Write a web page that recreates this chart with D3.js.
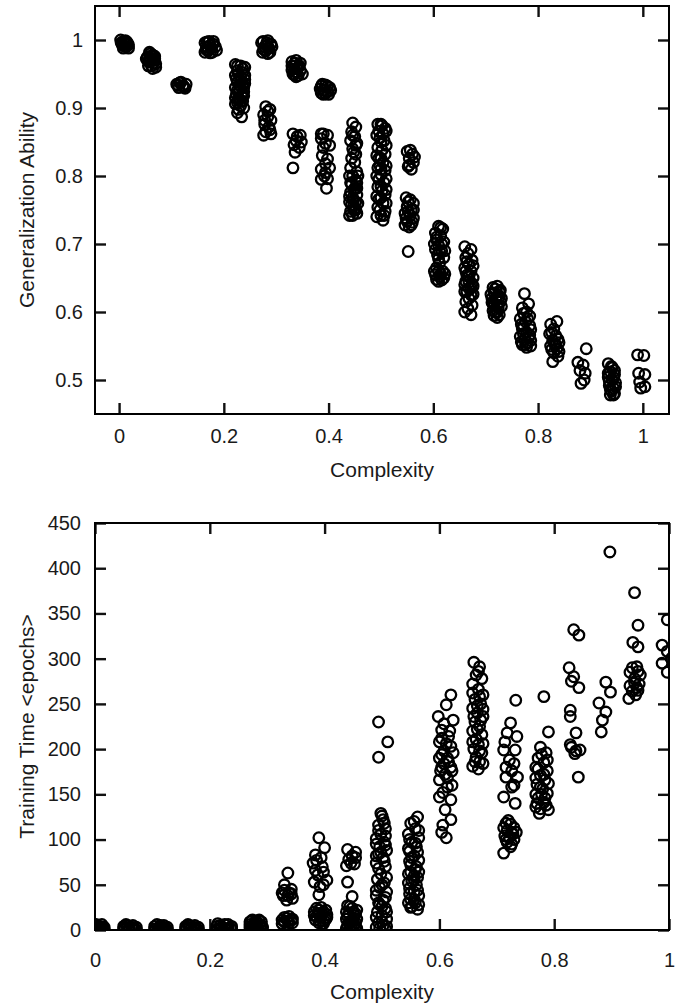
<!DOCTYPE html>
<html>
<head>
<meta charset="utf-8">
<script src="https://cdn.jsdelivr.net/npm/d3@7/dist/d3.min.js"></script>
<style>
  html, body { margin: 0; padding: 0; background: #fff; }
  svg { display: block; }
  text { font-family: "Liberation Sans", Arial, Helvetica, sans-serif; fill: #1a1a1a; }
</style>
</head>
<body>
<svg id="fig" width="678" height="1005"></svg>
<script>
// Generalization ability per network, [complexity, ability]
const generalization = [
  // ~0.00
  [0.003,1.0],[0.008,0.998],[0.012,0.996],[0.016,0.994],[0.006,0.993],[0.014,0.99],[0.018,0.988],[0.01,0.991],
  [0.004,0.996],[0.012,0.999],[0.018,0.993],[0.008,0.988],[0.015,0.997],
  // ~0.06
  [0.058,0.982],[0.064,0.978],[0.054,0.975],[0.068,0.972],[0.06,0.97],[0.066,0.966],[0.056,0.968],[0.062,0.962],[0.07,0.96],[0.064,0.958],[0.058,0.974],
  [0.06,0.98],[0.068,0.976],[0.056,0.962],[0.066,0.97],[0.052,0.972],[0.062,0.976],[0.07,0.965],
  // ~0.11
  [0.11,0.935],[0.116,0.937],[0.122,0.933],[0.128,0.935],[0.114,0.93],[0.124,0.931],[0.118,0.938],[0.112,0.933],[0.126,0.929],
  // ~0.17
  [0.164,0.996],[0.172,0.998],[0.18,0.994],[0.168,0.99],[0.176,0.988],[0.184,0.99],[0.17,0.984],[0.178,0.982],[0.166,0.986],
  [0.168,0.997],[0.18,0.998],[0.174,0.992],[0.186,0.985],[0.164,0.982],[0.174,0.981],
  // ~0.22
  [0.222,0.964],[0.232,0.962],[0.24,0.96],[0.226,0.955],[0.236,0.952],[0.222,0.948],[0.232,0.945],[0.24,0.942],[0.226,0.938],
  [0.236,0.935],[0.222,0.93],[0.23,0.927],[0.238,0.924],[0.224,0.92],[0.234,0.917],[0.228,0.912],[0.236,0.91],[0.222,0.906],
  [0.232,0.903],[0.228,0.898],[0.238,0.9],[0.226,0.893],[0.234,0.887],[0.228,0.915],[0.238,0.93],
  [0.226,0.962],[0.236,0.958],[0.228,0.95],[0.24,0.948],[0.224,0.943],[0.232,0.94],[0.24,0.936],[0.23,0.933],[0.226,0.926],
  [0.236,0.921],[0.222,0.915],[0.232,0.91],[0.226,0.908],[0.238,0.918],
  // ~0.28
  [0.275,0.998],[0.282,0.996],[0.29,0.994],[0.278,0.99],[0.286,0.988],[0.28,0.984],[0.288,0.982],[0.276,0.986],
  [0.272,0.996],[0.284,0.999],[0.292,0.99],[0.282,0.992],[0.274,0.982],[0.284,0.98],
  [0.28,0.902],[0.288,0.898],[0.276,0.89],[0.284,0.887],[0.29,0.882],[0.278,0.876],[0.286,0.872],[0.28,0.865],[0.29,0.862],[0.276,0.86],
  [0.284,0.895],[0.278,0.882],[0.288,0.868],
  // ~0.33
  [0.33,0.968],[0.338,0.97],[0.346,0.966],[0.334,0.962],[0.342,0.96],[0.33,0.956],[0.338,0.953],[0.346,0.955],[0.334,0.949],[0.342,0.948],
  [0.336,0.966],[0.344,0.962],[0.33,0.962],[0.34,0.958],[0.35,0.95],[0.338,0.946],[0.332,0.95],
  [0.332,0.862],[0.346,0.86],[0.338,0.852],[0.334,0.846],[0.344,0.842],[0.336,0.835],[0.332,0.812],[0.34,0.858],[0.348,0.85],
  // ~0.39
  [0.386,0.932],[0.394,0.934],[0.402,0.93],[0.39,0.926],[0.398,0.924],[0.386,0.922],[0.394,0.921],
  [0.388,0.935],[0.398,0.932],[0.404,0.926],[0.39,0.92],[0.4,0.92],[0.384,0.928],
  [0.39,0.862],[0.398,0.86],[0.386,0.855],[0.394,0.848],[0.39,0.842],[0.398,0.825],[0.394,0.818],[0.386,0.81],[0.402,0.812],
  [0.392,0.8],[0.398,0.796],[0.396,0.782],[0.386,0.862],[0.402,0.845],[0.388,0.83],[0.394,0.805],[0.386,0.795],
  // ~0.44
  [0.446,0.878],[0.452,0.872],[0.444,0.865],[0.45,0.858],[0.442,0.852],[0.454,0.848],[0.446,0.84],[0.452,0.832],[0.444,0.826],
  [0.45,0.82],[0.442,0.812],[0.454,0.806],[0.446,0.8],[0.452,0.794],[0.444,0.788],[0.45,0.782],[0.442,0.776],[0.454,0.772],
  [0.446,0.768],[0.452,0.762],[0.444,0.758],[0.45,0.752],[0.442,0.748],[0.454,0.745],[0.446,0.742],[0.452,0.75],[0.448,0.765],[0.448,0.78],
  [0.44,0.8],[0.454,0.79],[0.44,0.77],[0.448,0.756],[0.456,0.76],[0.44,0.762],[0.448,0.75],[0.454,0.782],[0.44,0.742],
  [0.446,0.86],[0.452,0.845],[0.448,0.835],[0.442,0.79],[0.456,0.8],
  // ~0.50
  [0.494,0.876],[0.502,0.874],[0.508,0.87],[0.496,0.866],[0.504,0.862],[0.498,0.856],[0.506,0.852],[0.494,0.842],[0.502,0.838],
  [0.508,0.832],[0.496,0.826],[0.504,0.82],[0.494,0.812],[0.508,0.808],[0.5,0.802],[0.496,0.795],[0.506,0.79],[0.494,0.784],
  [0.502,0.778],[0.508,0.772],[0.496,0.766],[0.504,0.76],[0.494,0.754],[0.508,0.748],[0.5,0.742],[0.504,0.735],[0.498,0.815],[0.5,0.785],
  [0.5,0.876],[0.51,0.866],[0.492,0.86],[0.5,0.85],[0.51,0.845],[0.492,0.83],[0.5,0.826],[0.51,0.815],[0.492,0.8],
  [0.51,0.796],[0.492,0.77],[0.5,0.768],[0.51,0.76],[0.492,0.74],[0.506,0.742],[0.498,0.75],[0.51,0.78],[0.5,0.81],
  // ~0.56
  [0.55,0.836],[0.56,0.832],[0.554,0.826],[0.562,0.82],[0.552,0.814],[0.558,0.81],[0.556,0.838],[0.564,0.828],[0.554,0.816],
  [0.548,0.768],[0.556,0.765],[0.562,0.76],[0.55,0.755],[0.558,0.75],[0.546,0.745],[0.556,0.742],[0.562,0.738],[0.55,0.733],
  [0.558,0.728],[0.546,0.728],[0.554,0.725],[0.552,0.762],[0.562,0.75],[0.548,0.738],[0.56,0.732],[0.552,0.748],[0.552,0.689],
  // ~0.61
  [0.61,0.726],[0.618,0.722],[0.604,0.716],[0.614,0.712],[0.606,0.706],[0.62,0.703],[0.61,0.698],[0.604,0.692],[0.616,0.69],
  [0.608,0.684],[0.62,0.68],[0.612,0.672],[0.606,0.665],[0.618,0.66],[0.604,0.655],[0.612,0.652],[0.62,0.65],[0.606,0.648],[0.614,0.656],
  [0.614,0.724],[0.606,0.71],[0.616,0.7],[0.602,0.7],[0.612,0.69],[0.622,0.69],[0.61,0.678],[0.602,0.66],[0.61,0.66],[0.616,0.647],[0.622,0.656],[0.61,0.645],
  // ~0.67
  [0.66,0.696],[0.672,0.692],[0.666,0.686],[0.662,0.68],[0.674,0.676],[0.668,0.67],[0.66,0.665],[0.672,0.66],[0.664,0.654],
  [0.676,0.65],[0.668,0.644],[0.66,0.64],[0.672,0.635],[0.664,0.63],[0.676,0.626],[0.668,0.62],[0.662,0.615],[0.674,0.61],
  [0.66,0.6],[0.672,0.596],[0.666,0.605],
  [0.664,0.674],[0.676,0.668],[0.662,0.66],[0.668,0.652],[0.674,0.642],[0.662,0.645],[0.668,0.635],[0.676,0.638],[0.66,0.63],[0.672,0.625],
  // ~0.72
  [0.714,0.636],[0.722,0.638],[0.728,0.632],[0.716,0.628],[0.724,0.625],[0.712,0.62],[0.72,0.618],[0.728,0.615],[0.716,0.61],
  [0.724,0.606],[0.718,0.6],[0.726,0.596],[0.722,0.592],[0.714,0.612],[0.726,0.622],
  [0.718,0.634],[0.726,0.63],[0.71,0.626],[0.72,0.622],[0.73,0.62],[0.712,0.614],[0.722,0.61],[0.73,0.608],[0.714,0.602],[0.722,0.6],[0.716,0.595],
  // ~0.78
  [0.774,0.627],[0.782,0.612],[0.77,0.606],[0.778,0.6],[0.784,0.594],[0.766,0.59],[0.776,0.586],[0.784,0.58],[0.77,0.575],
  [0.778,0.57],[0.766,0.564],[0.784,0.566],[0.774,0.56],[0.78,0.555],[0.77,0.552],[0.778,0.548],[0.786,0.55],
  [0.772,0.598],[0.78,0.59],[0.768,0.582],[0.786,0.574],[0.772,0.568],[0.782,0.562],[0.768,0.556],[0.786,0.558],[0.776,0.552],[0.772,0.58],
  // ~0.83
  [0.836,0.586],[0.824,0.582],[0.83,0.575],[0.822,0.568],[0.834,0.565],[0.828,0.558],[0.84,0.555],[0.824,0.55],[0.836,0.546],
  [0.83,0.54],[0.838,0.535],[0.828,0.527],[0.826,0.57],[0.838,0.56],[0.832,0.552],[0.826,0.545],[0.84,0.542],[0.834,0.552],
  // ~0.89
  [0.892,0.546],[0.876,0.526],[0.886,0.522],[0.88,0.514],[0.89,0.51],[0.882,0.495],[0.888,0.5],
  // ~0.94
  [0.934,0.524],[0.942,0.518],[0.938,0.512],[0.946,0.508],[0.934,0.504],[0.942,0.5],[0.948,0.496],[0.936,0.492],[0.944,0.488],
  [0.94,0.484],[0.946,0.48],[0.938,0.478],
  [0.94,0.52],[0.946,0.514],[0.934,0.51],[0.944,0.504],[0.936,0.498],[0.948,0.49],[0.938,0.486],[0.944,0.478],
  // ~1.00
  [0.99,0.537],[1.002,0.536],[0.992,0.51],[1.004,0.508],[0.994,0.497],[1.004,0.49],[0.996,0.488]
];

// Training time per network, [complexity, epochs]
const trainingTime = [
  // 0 .. 0.28: converge almost immediately
  [0.002,2],[0.008,1],[0.012,3],[0.004,0],[0.01,2],[0.006,1],[0.0,4],[0.014,1],[0.004,5],[0.01,0],[0.016,3],
  [0.002,6],[0.012,6],[0.006,3],[0.016,0],[0.0,1],[0.008,4],
  [0.052,2],[0.058,1],[0.064,3],[0.07,1],[0.06,0],[0.066,2],[0.05,4],[0.072,3],[0.056,5],[0.068,0],
  [0.054,6],[0.066,5],[0.06,3],[0.072,0],[0.05,1],
  [0.106,1],[0.112,3],[0.118,2],[0.124,1],[0.11,0],[0.12,2],[0.104,4],[0.126,3],[0.114,5],[0.122,0],
  [0.108,6],[0.12,5],[0.116,3],[0.126,0],[0.104,1],
  [0.16,2],[0.166,1],[0.172,3],[0.178,1],[0.17,0],[0.158,4],[0.18,3],[0.164,5],[0.176,0],
  [0.162,6],[0.174,5],[0.168,3],[0.18,0],[0.158,1],
  [0.214,1],[0.22,3],[0.226,2],[0.232,1],[0.236,2],[0.222,0],[0.212,4],[0.238,4],[0.218,5],[0.23,0],[0.226,6],
  [0.214,7],[0.232,6],[0.22,2],[0.238,1],[0.212,0],
  [0.27,3],[0.276,6],[0.282,8],[0.288,4],[0.272,1],[0.28,2],[0.286,7],[0.278,5],
  [0.27,9],[0.29,9],[0.274,4],[0.284,1],[0.292,3],[0.28,10],[0.276,0],
  [0.274,11],[0.286,11],[0.28,6],[0.29,5],[0.27,6],
  // ~0.33
  [0.336,63],[0.33,50],[0.338,41],[0.344,35],[0.326,41],[0.334,33],[0.342,45],[0.328,38],[0.336,38],[0.33,44],[0.342,40],
  [0.326,11],[0.334,13],[0.342,11],[0.33,9],[0.338,8],[0.344,12],[0.33,14],[0.338,15],[0.344,8],[0.326,7],[0.336,10],
  // ~0.39
  [0.39,102],[0.4,91],[0.384,83],[0.38,74],[0.396,70],[0.388,61],[0.404,55],[0.382,53],[0.392,48],[0.39,39],[0.398,64],[0.386,77],
  [0.394,80],[0.384,66],[0.398,50],
  [0.382,20],[0.39,22],[0.398,20],[0.404,17],[0.386,15],[0.394,14],[0.402,12],[0.384,11],[0.392,10],[0.4,10],[0.396,18],
  [0.386,24],[0.394,25],[0.402,22],[0.39,8],[0.398,7],[0.382,16],[0.404,14],[0.39,18],
  // ~0.44
  [0.44,89],[0.454,86],[0.442,78],[0.452,73],[0.438,71],[0.448,82],[0.446,74],[0.454,80],[0.44,53],[0.448,37],
  [0.44,27],[0.448,24],[0.456,22],[0.442,18],[0.452,16],[0.438,12],[0.446,10],[0.454,8],[0.44,5],[0.45,3],[0.444,1],[0.456,2],[0.438,20],[0.45,13],
  [0.444,26],[0.454,18],[0.44,15],[0.45,20],[0.456,12],[0.442,8],[0.452,6],[0.446,4],[0.438,2],[0.454,0],
  // ~0.50
  [0.494,230],[0.51,208],[0.494,191],
  [0.498,129],[0.502,122],[0.494,116],[0.506,112],[0.498,106],[0.49,101],[0.504,97],[0.496,92],[0.508,88],[0.494,84],
  [0.502,80],[0.49,74],[0.506,70],[0.498,62],[0.492,56],[0.504,52],[0.496,47],[0.508,42],[0.49,38],[0.502,33],
  [0.496,28],[0.506,24],[0.492,20],[0.5,16],[0.508,12],[0.494,8],[0.502,5],[0.496,2],[0.506,1],
  [0.5,126],[0.494,110],[0.506,104],[0.49,95],[0.506,94],[0.498,86],[0.49,82],[0.504,76],[0.494,68],[0.508,58],
  [0.5,50],[0.49,44],[0.506,36],[0.494,30],[0.5,26],[0.508,20],[0.49,14],[0.5,9],[0.508,4],[0.49,3],[0.504,118],
  // ~0.56
  [0.562,125],[0.55,118],[0.558,112],[0.546,106],[0.564,102],[0.552,97],[0.56,92],[0.548,87],[0.556,82],[0.564,77],
  [0.55,72],[0.558,67],[0.546,62],[0.562,58],[0.552,54],[0.56,50],[0.548,46],[0.556,42],[0.564,38],[0.55,34],
  [0.558,30],[0.552,26],[0.562,23],[0.546,52],[0.556,60],
  [0.556,120],[0.564,110],[0.548,100],[0.558,96],[0.546,90],[0.562,86],[0.552,80],[0.548,76],[0.56,70],[0.564,64],
  [0.55,64],[0.556,56],[0.548,40],[0.562,44],[0.556,34],[0.546,30],[0.564,28],[0.55,25],
  // ~0.61
  [0.62,260],[0.612,249],[0.598,236],[0.624,232],[0.604,221],[0.616,214],[0.6,208],[0.62,203],[0.608,198],[0.6,190],
  [0.616,186],[0.604,180],[0.622,176],[0.61,172],[0.6,166],[0.614,158],[0.6,147],[0.62,144],[0.61,133],[0.62,122],
  [0.604,108],[0.612,102],[0.606,116],
  [0.608,228],[0.618,220],[0.604,212],[0.612,206],[0.624,196],[0.604,194],[0.614,190],[0.608,184],[0.62,180],[0.602,176],
  [0.614,168],[0.622,160],[0.606,152],
  // ~0.67
  [0.66,296],[0.67,291],[0.664,282],[0.674,278],[0.658,272],[0.668,266],[0.676,260],[0.662,255],[0.672,250],[0.658,245],
  [0.666,240],[0.676,236],[0.662,230],[0.67,225],[0.658,220],[0.674,216],[0.664,211],[0.668,205],[0.66,200],[0.674,196],
  [0.664,191],[0.67,186],[0.658,181],[0.668,178],
  [0.668,286],[0.658,262],[0.67,258],[0.666,248],[0.676,244],[0.66,236],[0.672,232],[0.666,222],[0.676,206],[0.658,208],
  [0.67,198],[0.662,186],[0.676,184],
  // ~0.72
  [0.733,254],[0.724,229],[0.718,218],[0.735,214],[0.712,199],[0.732,199],[0.722,188],[0.716,169],[0.736,169],[0.726,158],
  [0.712,147],[0.732,140],[0.726,176],[0.714,208],[0.73,184],[0.716,180],[0.73,160],
  [0.716,118],[0.724,117],[0.73,113],[0.718,110],[0.726,108],[0.714,104],[0.722,102],[0.73,100],[0.718,97],[0.726,95],[0.712,85],
  [0.72,121],[0.712,113],[0.728,106],[0.716,100],[0.734,108],[0.724,92],
  // ~0.78
  [0.782,258],[0.79,219],[0.776,202],[0.786,196],[0.772,190],[0.782,185],[0.768,180],[0.788,176],[0.776,171],[0.784,166],
  [0.77,161],[0.78,156],[0.788,151],[0.772,146],[0.782,141],[0.768,136],[0.79,133],[0.774,129],[0.778,150],
  [0.778,194],[0.788,188],[0.772,178],[0.782,172],[0.768,168],[0.79,162],[0.776,158],[0.784,146],[0.77,140],[0.786,138],[0.776,134],[0.768,150],
  // ~0.83
  [0.834,332],[0.843,326],[0.826,290],[0.834,280],[0.843,268],[0.828,243],[0.828,236],[0.838,218],[0.83,202],[0.845,199],[0.836,195],[0.842,169],
  [0.83,275],[0.838,198],[0.828,205],
  // ~0.89
  [0.897,418],[0.89,274],[0.898,263],[0.878,251],[0.89,241],[0.884,232],[0.882,219],
  // ~0.94
  [0.94,373],[0.946,337],[0.937,318],[0.946,313],[0.944,291],[0.932,285],[0.95,282],[0.94,273],[0.932,270],[0.946,265],[0.93,256],[0.942,260],
  [0.936,290],[0.946,286],[0.94,278],[0.948,272],[0.936,264],[0.944,268],
  // ~1.00
  [0.997,343],[0.988,315],[0.997,308],[0.988,295],[0.997,285],[1.004,300]
];

const complexityTicks = [0, 0.2, 0.4, 0.6, 0.8, 1];
const abilityTicks = [0.5, 0.6, 0.7, 0.8, 0.9, 1];
const epochTicks = [0, 50, 100, 150, 200, 250, 300, 350, 400, 450];

const svg = d3.select("#fig");

function panel(opts) {
  const { top, bottom, left, right, xDomain, yDomain, data, xTicks, yTicks,
          xPad, yPad, yTitle, xTitleY, id } = opts;
  const x = d3.scaleLinear().domain(xDomain).range([left, right]);
  const y = d3.scaleLinear().domain(yDomain).range([bottom, top]);
  const g = svg.append("g");
  const tick = 11;

  g.append("clipPath").attr("id", id)
    .append("rect").attr("x", left).attr("y", top)
    .attr("width", right - left).attr("height", bottom - top);

  const fmt = d => String(d);
  const styleAxis = sel => {
    sel.select(".domain").remove();
    sel.selectAll(".tick line").attr("stroke", "#111").attr("stroke-width", 2.4);
    sel.selectAll(".tick text").attr("font-size", 20).attr("fill", "#1a1a1a")
      .style("font-family", '"Liberation Sans", Arial, Helvetica, sans-serif');
  };

  g.append("g").attr("transform", `translate(0,${bottom})`)
    .call(d3.axisBottom(x).tickValues(xTicks).tickFormat(fmt).tickSizeInner(-tick).tickSizeOuter(0).tickPadding(xPad))
    .call(styleAxis);
  g.append("g").attr("transform", `translate(0,${top})`)
    .call(d3.axisTop(x).tickValues(xTicks).tickFormat("").tickSizeInner(-tick).tickSizeOuter(0))
    .call(styleAxis);
  g.append("g").attr("transform", `translate(${left},0)`)
    .call(d3.axisLeft(y).tickValues(yTicks).tickFormat(fmt).tickSizeInner(-tick).tickSizeOuter(0).tickPadding(yPad))
    .call(styleAxis);
  g.append("g").attr("transform", `translate(${right},0)`)
    .call(d3.axisRight(y).tickValues(yTicks).tickFormat("").tickSizeInner(-tick).tickSizeOuter(0))
    .call(styleAxis);

  g.append("g").attr("clip-path", `url(#${id})`)
    .selectAll("circle").data(data).join("circle")
    .attr("cx", d => x(d[0])).attr("cy", d => y(d[1]))
    .attr("r", 5.3)
    .attr("fill", "none").attr("stroke", "#000").attr("stroke-width", 2.3);

  g.append("rect").attr("x", left).attr("y", top)
    .attr("width", right - left).attr("height", bottom - top)
    .attr("fill", "none").attr("stroke", "#000").attr("stroke-width", 2);

  g.append("text").attr("x", (left + right) / 2).attr("y", xTitleY)
    .attr("text-anchor", "middle").attr("font-size", 21).text("Complexity");
  g.append("text")
    .attr("transform", `translate(34,${(top + bottom) / 2}) rotate(-90)`)
    .attr("text-anchor", "middle").attr("font-size", 21).text(yTitle);
}

panel({
  id: "clipGen", top: 6, bottom: 414, left: 95, right: 669,
  xDomain: [-0.046, 1.05], yDomain: [0.45, 1.05],
  data: generalization, xTicks: complexityTicks, yTicks: abilityTicks,
  xPad: 15, yPad: 12, yTitle: "Generalization Ability", xTitleY: 477
});

panel({
  id: "clipTime", top: 523, bottom: 930, left: 95, right: 669,
  xDomain: [0, 1], yDomain: [0, 450],
  data: trainingTime, xTicks: complexityTicks, yTicks: epochTicks,
  xPad: 23, yPad: 14, yTitle: "Training Time <epochs>", xTitleY: 999
});
</script>
</body>
</html>
